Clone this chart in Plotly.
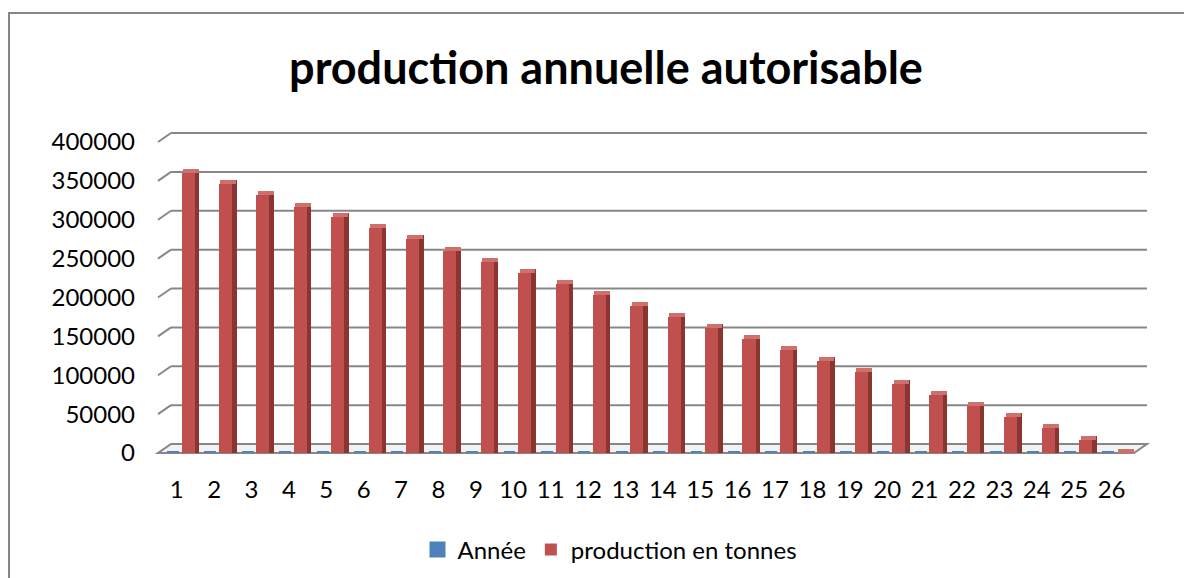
"""Production annuelle autorisable - Excel style 3D-look column chart."""

import plotly.graph_objects as go

# ---------------------------------------------------------------------------
# Data
# ---------------------------------------------------------------------------

years = [str(i) for i in range(1, 27)]
annee = list(range(1, 27))
production = [
    360000, 346000, 332000, 317000, 303000, 289000, 275000, 260000, 246000,
    232000, 217000, 203000, 189000, 175000, 161000, 146000, 132000, 118000,
    104000, 89000, 75000, 61000, 46000, 32000, 17000, 0,
]
y_ticks = [0, 50000, 100000, 150000, 200000, 250000, 300000, 350000, 400000]

# ---------------------------------------------------------------------------
# Geometry / style (pixels, as seen in the browser window)
# ---------------------------------------------------------------------------

OFF = 8                                    # default body margin of the page
W, H = 1192 - OFF, 578 - OFF
L, R, T, B = 158 - OFF, 1134 - OFF, 142 - OFF, 453 - OFF
PW, PH = R - L, B - T
Y_MAX = 400000
PX = Y_MAX / PH                            # data units per pixel
DX, DY = 13, 9                             # 3D depth offset of back wall

BLUE = "#4F81BD"
RED = "#C0504D"
RED_SIDE = "#8A3532"
RED_TOP = "#D0706C"
GRID = "#878787"
FONT = "Lato"


def px_x(x):
    return (x - OFF - L) / PW


def px_y(y):
    return (B - (y - OFF)) / PH


fig = go.Figure()

# Année: tiny values, shows up only as a flat slab on the floor
fig.add_trace(go.Bar(
    x=years, y=annee, name="Année",
    marker=dict(color=BLUE, line=dict(color=BLUE, width=4)),
    offset=-0.26, width=0.32,
))
# side face of red columns
fig.add_trace(go.Bar(
    x=years, y=[v + 4 * PX for v in production], showlegend=False,
    marker=dict(color=RED_SIDE, line=dict(width=0)),
    offset=0.47, width=0.13, hoverinfo="skip",
))
# top face of red columns
fig.add_trace(go.Bar(
    x=years, y=[4 * PX] * len(production), base=production, showlegend=False,
    marker=dict(color=RED_TOP, line=dict(width=0)),
    offset=0.17, width=0.42, hoverinfo="skip",
))
# front face
fig.add_trace(go.Bar(
    x=years, y=production, name="production en tonnes",
    marker=dict(color=RED, line=dict(width=0)),
    offset=0.13, width=0.35,
))

front_b = 453
shapes = []
# floor
shapes.append(dict(
    type="path", xref="paper", yref="paper", layer="below",
    path=(f"M {px_x(158)} {px_y(front_b)} L {px_x(1134)} {px_y(front_b)} "
          f"L {px_x(1134 + DX)} {px_y(front_b - DY)} "
          f"L {px_x(158 + DX)} {px_y(front_b - DY)} Z"),
    fillcolor="#F2F2F2", line=dict(color=GRID, width=2),
))
# back-wall gridlines with their diagonal stubs
for t in y_ticks[1:]:
    yf = t / Y_MAX
    yb = yf + DY / PH
    shapes.append(dict(
        type="line", xref="paper", yref="paper", layer="below",
        x0=px_x(158 + DX), x1=px_x(1134 + DX), y0=yb, y1=yb,
        line=dict(color=GRID, width=2),
    ))
    shapes.append(dict(
        type="line", xref="paper", yref="paper", layer="below",
        x0=px_x(158), x1=px_x(158 + DX), y0=yf, y1=yb,
        line=dict(color=GRID, width=2),
    ))
# outer chart border
shapes.append(dict(
    type="rect", xref="paper", yref="paper", layer="below",
    x0=px_x(9), x1=px_x(1192 + 20), y0=px_y(13), y1=px_y(578 + 20),
    line=dict(color="#868686", width=2), fillcolor="rgba(0,0,0,0)",
))

fig.update_layout(
    width=W, height=H,
    margin=dict(l=L, r=W - R, t=T, b=H - B, autoexpand=False),
    paper_bgcolor="white", plot_bgcolor="rgba(0,0,0,0)",
    barmode="overlay", bargap=0,
    font=dict(family=FONT, size=24, color="black"),
    title=dict(
        text="<b>production annuelle autorisable</b>",
        x=(606 - OFF) / W, y=1 - (68 - OFF) / H,
        xanchor="center", yanchor="middle",
        font=dict(family=FONT, size=45, color="black"),
    ),
    xaxis=dict(
        type="category", showgrid=False, showline=False, zeroline=False,
        ticks="", ticklabelstandoff=20, tickfont=dict(size=24),
    ),
    yaxis=dict(
        range=[0, Y_MAX], tickvals=y_ticks, tickformat="d",
        showgrid=False, zeroline=False, showline=False, ticks="",
        ticklabelstandoff=22, tickfont=dict(size=24),
    ),
    legend=dict(
        orientation="h", x=px_x(610), y=px_y(550), xanchor="center",
        yanchor="middle", font=dict(size=24), itemwidth=30,
        traceorder="normal",
    ),
    shapes=shapes,
    showlegend=True,
)

fig.write_html("out.html")
